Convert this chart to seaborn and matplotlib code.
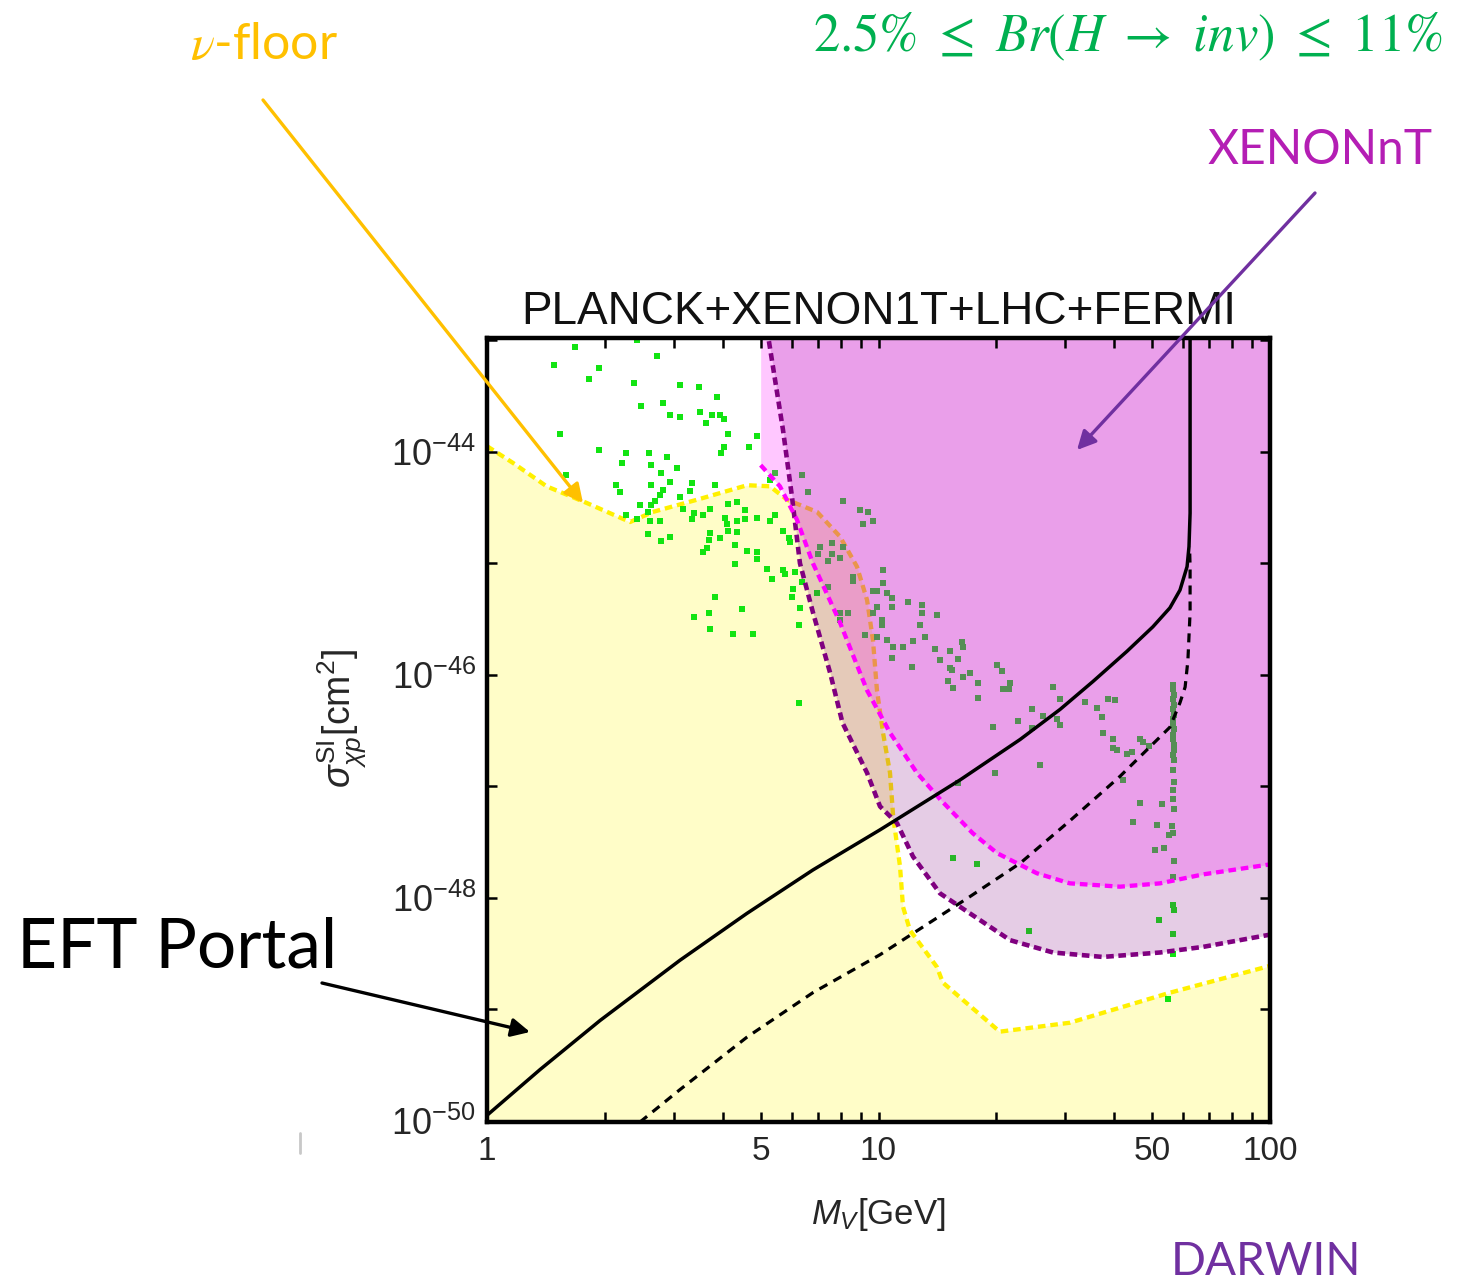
import numpy as np
import pandas as pd
import matplotlib
matplotlib.use("Agg")
import matplotlib.pyplot as plt
import seaborn as sns
from matplotlib.ticker import FixedLocator, NullLocator, FuncFormatter
from matplotlib.lines import Line2D

# ---------------- data (M in GeV, sigma as log10 of cm^2) ----------------
nu_floor_m = [1.0, 1.165, 1.42, 1.80, 2.32, 2.65, 3.44, 4.62, 5.28, 5.84, 6.97, 7.97, 8.81, 9.35,
              9.68, 9.91, 10.27, 10.7, 10.9, 11.35, 11.55, 12.03, 14.1, 14.6, 20.4, 30.8, 55.6, 100.0]
nu_floor_log = [-43.95, -44.10, -44.31, -44.46, -44.63, -44.54, -44.43, -44.30, -44.31, -44.43, -44.54,
                -44.76, -45.03, -45.33, -45.69, -46.14, -46.52, -46.88, -47.27, -47.72, -48.08, -48.29,
                -48.62, -48.76, -49.20, -49.12, -48.85, -48.61]

xenonnt_m = [5.0, 5.0, 5.60, 6.19, 6.80, 7.97, 9.35, 10.7, 12.54, 14.4, 17.4, 20.1, 25.4, 30.8,
             41.4, 52.4, 67.4, 100.0]
xenonnt_log = [-42.9, -44.12, -44.31, -44.61, -45.00, -45.53, -46.14, -46.52, -46.88, -47.12, -47.42,
               -47.60, -47.78, -47.87, -47.90, -47.87, -47.79, -47.70]

darwin_m = [5.19, 5.70, 6.01, 6.30, 6.80, 7.52, 8.09, 9.35, 10.09, 11.15, 12.25, 14.36, 17.13, 21.7,
            27.9, 37.4, 52.4, 67.4, 100.0]
darwin_log = [-42.9, -43.80, -44.40, -45.00, -45.44, -45.98, -46.43, -46.88, -47.18, -47.33, -47.63,
              -47.96, -48.14, -48.38, -48.49, -48.53, -48.49, -48.44, -48.33]

eft_m = [1.0, 1.366, 1.944, 3.11, 4.61, 6.80, 10.09, 16.2, 23.0, 29.1, 35.3, 43.1, 50.2, 55.5,
         58.9, 61.4, 62.1, 62.5, 62.5]
eft_log = [-49.95, -49.54, -49.10, -48.56, -48.14, -47.75, -47.39, -46.94, -46.58, -46.31, -46.06,
           -45.79, -45.57, -45.40, -45.24, -45.03, -44.85, -44.55, -42.9]

eft_dash_m = [2.46, 3.11, 4.61, 6.80, 10.09, 17.1, 23.0, 30.8, 41.4, 55.5, 58.9, 60.7, 61.7, 62.5,
              62.5, 62.3]
eft_dash_log = [-50.01, -49.72, -49.25, -48.85, -48.51, -47.99, -47.69, -47.31, -46.91, -46.47, -46.25,
                -46.11, -45.87, -45.44, -45.03, -44.85]

pts_m = [1.68, 2.41, 2.71, 1.48, 1.93, 1.82, 2.37, 3.11, 3.47, 3.86, 2.82, 2.48, 3.49, 2.94, 3.11,
         3.75, 3.94, 4.02, 3.63, 1.54, 4.13, 4.89, 4.02, 3.95, 4.68, 1.93, 2.27, 2.60, 2.21, 2.89,
         2.63, 3.05, 2.79, 1.59, 2.93, 2.14, 2.19, 2.63, 3.33, 3.82, 2.82, 3.30, 2.76, 3.11, 2.69,
         2.63, 2.46, 5.28, 5.44, 4.13, 4.34, 4.56, 3.71, 3.17, 3.37, 2.58, 2.27, 2.41, 2.61, 2.77,
         3.33, 3.57, 4.06, 4.34, 4.56, 4.89, 5.44, 5.28, 5.71, 5.89, 5.94, 3.71, 4.34, 4.13, 4.10,
         3.94, 2.58, 2.93, 2.79, 3.68, 3.64, 3.57, 4.30, 4.61, 4.89, 4.90, 4.30, 5.18, 5.71, 5.77,
         6.12, 5.34, 6.06, 6.37, 6.00, 3.82, 3.37, 3.68, 4.47, 3.71, 4.26, 4.79, 6.30, 6.28, 6.28,
         6.37, 6.62, 8.13, 8.97, 9.42, 9.15, 9.70,
         7.09, 7.59, 8.13, 7.59, 7.02, 7.97, 7.44, 10.29, 8.62, 8.62, 10.29, 9.70, 9.89, 10.49, 10.80,
         11.92, 12.89, 7.44, 6.95, 9.89, 10.80, 12.89, 14.08, 9.70, 7.97, 7.97, 8.37, 10.19, 10.19,
         12.76, 9.24, 9.89, 10.49, 12.27, 13.15, 10.91, 11.57, 13.94, 14.36, 15.23, 16.31, 16.47,
         15.99, 10.80, 12.15, 15.23, 15.38, 17.13, 16.47, 15.08, 15.53, 17.99, 17.99, 15.99, 15.53,
         17.81,
         20.04, 20.64, 21.67, 20.84, 21.59, 27.97, 29.08, 24.62, 22.76, 19.65, 24.62, 26.37, 28.52,
         29.08, 25.86, 19.85, 33.69, 36.08, 37.15, 37.52, 38.64, 40.19, 39.80, 39.80, 40.58, 43.04,
         44.33, 46.56, 47.29, 49.18, 42.21, 46.56, 52.88, 44.77, 51.34, 50.85, 53.60, 55.32,
         24.24, 52.06, 54.9]
pts_log = [-43.06, -43.00, -43.14, -43.22, -43.25, -43.35, -43.38, -43.40, -43.42, -43.51, -43.56,
           -43.59, -43.64, -43.67, -43.69, -43.67, -43.67, -43.71, -43.74, -43.84, -43.84, -43.86,
           -43.96, -44.01, -43.96, -43.98, -44.01, -44.01, -44.10, -44.05, -44.12, -44.15, -44.19,
           -44.21, -44.27, -44.30, -44.36, -44.30, -44.28, -44.30, -44.34, -44.35, -44.39, -44.41,
           -44.44, -44.48, -44.48, -44.25, -44.19, -44.47, -44.45, -44.52, -44.51, -44.51, -44.55,
           -44.54, -44.57, -44.60, -44.62, -44.62, -44.60, -44.57, -44.59, -44.62, -44.60, -44.59,
           -44.57, -44.62, -44.71, -44.77, -44.81, -44.73, -44.72, -44.71, -44.65, -44.77, -44.74,
           -44.76, -44.80, -44.79, -44.86, -44.90, -44.84, -44.89, -44.90, -44.96, -45.01, -45.05,
           -45.06, -45.10, -45.08, -45.14, -45.23, -45.17, -45.30, -45.30, -45.48, -45.45, -45.41,
           -45.59, -45.63, -45.63, -45.40, -45.55, -46.25,
           -44.21, -44.36, -44.44, -44.52, -44.54, -44.65, -44.62,
           -44.85, -44.82, -44.85, -44.92, -44.92, -44.95, -44.98, -45.06, -45.12, -45.16, -45.18,
           -45.25, -45.25, -45.27, -45.31, -45.35, -45.37, -45.21, -45.27, -45.39, -45.39, -45.45,
           -45.46, -45.45, -45.45, -45.51, -45.45, -45.51, -45.55, -45.55, -45.64, -45.66, -45.69,
           -45.70, -45.66, -45.75, -45.75, -45.77, -45.87, -45.79, -45.71, -45.75, -45.86, -45.85,
           -45.93, -45.94, -45.96, -45.98, -46.02, -46.06, -46.12, -46.07, -46.21, -46.97, -47.64,
           -47.70,
           -45.91, -45.97, -46.07, -46.13, -46.13, -46.11, -46.22, -46.31, -46.41, -46.47, -46.48,
           -46.37, -46.40, -46.45, -46.81, -46.88, -46.24, -46.30, -46.38, -46.52, -46.22, -46.23,
           -46.58, -46.66, -46.67, -46.71, -46.69, -46.58, -46.60, -46.64, -46.94, -47.15, -47.16,
           -47.32, -47.35, -47.57, -47.55, -47.44,
           -48.30, -48.20, -48.91]

column_m = [56.6, 56.4, 56.8, 56.5, 56.7, 56.4, 56.9, 56.6, 56.5, 56.8, 56.6, 56.4, 56.7, 56.9,
            56.5, 56.7, 56.6, 56.8, 56.5, 56.6, 56.9, 56.3, 56.6, 56.7, 56.5, 56.6, 56.8, 56.4, 56.6]
column_log = [-46.09, -46.13, -46.18, -46.22, -46.27, -46.31, -46.36, -46.40, -46.45, -46.49, -46.54,
              -46.58, -46.63, -46.67, -46.72, -46.76, -46.85, -46.96, -47.03, -47.11, -47.20, -47.36,
              -47.42, -47.67, -47.81, -48.06, -48.11, -48.32, -48.50]

x_ticks = [1, 2, 3, 4, 5, 6, 7, 8, 9, 10, 20, 30, 40, 50, 60, 70, 80, 90, 100]
x_labeled = [1, 5, 10, 50, 100]
y_exponents = [-50, -49, -48, -47, -46, -45, -44, -43]
y_labeled = [-50, -48, -46, -44]

# ---------------- style ----------------
sns.set_theme(style="ticks")
plt.rcParams['font.family'] = ['Liberation Sans', 'DejaVu Sans']
plt.rcParams['mathtext.fontset'] = 'custom'
plt.rcParams['mathtext.rm'] = 'Liberation Sans'
plt.rcParams['mathtext.it'] = 'Liberation Sans:italic'
plt.rcParams['mathtext.bf'] = 'Liberation Sans:bold'
plt.rcParams['lines.scale_dashes'] = False

YELLOW_FILL = '#FFFDC8'
YELLOW_LINE = '#FFF000'
PURPLE = '#800080'
MAGENTA = '#FF00FF'
DOT = '#12E412'

fig = plt.figure(figsize=(14.76, 12.84), dpi=100)
W, H = 1476, 1284
ax = fig.add_axes([487 / W, 1 - 1122 / H, (1270 - 487) / W, (1122 - 338) / H])
ax.set_xscale('log')
ax.set_yscale('log')
ax.set_facecolor('white')

def sig(lst):
    return [10.0 ** v for v in lst]

TOP = 1e-40
BOTTOM = 1e-52

# neutrino floor (yellow)
ax.fill_between(nu_floor_m, BOTTOM, sig(nu_floor_log), color=YELLOW_FILL, lw=0, zorder=1)
sns.lineplot(x=nu_floor_m, y=sig(nu_floor_log), ax=ax, estimator=None, sort=False,
             color=YELLOW_LINE, linewidth=3.1, zorder=2)
ax.get_lines()[-1].set_dashes((5.5, 3.5))

# scan points
pts = pd.DataFrame({'M': pts_m + column_m, 'sigma': sig(pts_log + column_log)})
sns.scatterplot(data=pts, x='M', y='sigma', ax=ax, marker='s', s=15, color=DOT,
                linewidth=0, zorder=2.5)

# DARWIN (lavender) and XENONnT (magenta) regions
ax.fill_between(darwin_m, sig(darwin_log), TOP, color=PURPLE, alpha=0.2, lw=0, zorder=3)
ax.fill_between(xenonnt_m, sig(xenonnt_log), TOP, color=MAGENTA, alpha=0.22, lw=0, zorder=3.5)

sns.lineplot(x=darwin_m, y=sig(darwin_log), ax=ax, estimator=None, sort=False,
             color=PURPLE, linewidth=3.3, zorder=4)
ax.get_lines()[-1].set_dashes((5.5, 3.3))
sns.lineplot(x=xenonnt_m[1:], y=sig(xenonnt_log[1:]), ax=ax, estimator=None, sort=False,
             color=MAGENTA, linewidth=3.1, zorder=4.5)
ax.get_lines()[-1].set_dashes((5.5, 3.5))

# EFT portal curves
sns.lineplot(x=eft_m, y=sig(eft_log), ax=ax, estimator=None, sort=False,
             color='black', linewidth=2.5, zorder=5)
sns.lineplot(x=eft_dash_m, y=sig(eft_dash_log), ax=ax, estimator=None, sort=False,
             color='black', linewidth=2.3, zorder=5)
ax.get_lines()[-1].set_dashes((6.5, 5.0))

ax.set_xlim(1, 100)
ax.set_ylim(10 ** -50.01, 10 ** -42.98)

# ticks
ax.xaxis.set_major_locator(FixedLocator(x_ticks))
ax.xaxis.set_minor_locator(NullLocator())
ax.xaxis.set_major_formatter(FuncFormatter(lambda v, p: f"{int(round(v))}" if int(round(v)) in x_labeled else ""))
ax.yaxis.set_major_locator(FixedLocator([10.0 ** e for e in y_exponents]))
ax.yaxis.set_minor_locator(NullLocator())
ax.yaxis.set_major_formatter(FuncFormatter(
    lambda v, p: (r"$10^{%d}$" % int(round(np.log10(v)))) if int(round(np.log10(v))) in y_labeled else ""))
ax.tick_params(axis='both', which='major', direction='in', length=7, width=1.8,
               top=True, right=True, color='black')
ax.tick_params(axis='x', labelsize=24, pad=10)
ax.tick_params(axis='y', labelsize=26, pad=8)
for sp in ax.spines.values():
    sp.set_linewidth(3.2)
    sp.set_color('black')
    sp.set_zorder(10)
ax.xaxis.set_zorder(10)
ax.yaxis.set_zorder(10)

ax.set_title("PLANCK+XENON1T+LHC+FERMI", fontsize=33, pad=10, color='#111111')
ax.set_xlabel(r"$M_V$[GeV]", fontsize=25)
ax.xaxis.set_label_coords(0.5, -0.095)
ax.set_ylabel(r"$\sigma^{\mathrm{SI}}_{\chi p}[\mathrm{cm}^2]$", fontsize=27)
ax.yaxis.set_label_coords(-0.152, 0.515)

# ---------------- annotations ----------------
def fx(px):
    return px / W

def fy(py):
    return 1 - py / H

fig.text(fx(264), fy(45), r"$\nu$-floor", color='#FFC000', fontsize=36,
         family=['Lato', 'DejaVu Sans'], math_fontfamily='stix', ha='center', va='center')
fig.text(fx(1128), fy(37), r"$2.5\%\ \leq\ Br(H\ \rightarrow\ inv)\ \leq\ 11\%$", color='#00B050',
         fontsize=38, math_fontfamily='stix', ha='center', va='center')
fig.text(fx(1320), fy(150), "XENONnT", color='#B41EB4', fontsize=34.5,
         family=['Lato', 'DejaVu Sans'], ha='center', va='center')
fig.text(fx(177), fy(948), "EFT Portal", color='black', fontsize=50,
         family=['Lato', 'DejaVu Sans'], ha='center', va='center')
fig.text(fx(1266), fy(1262), "DARWIN", color='#7030A0', fontsize=33,
         family=['Lato', 'DejaVu Sans'], ha='center', va='center')

def arrow(p0, p1, color):
    ax.annotate('', xy=(fx(p1[0]), fy(p1[1])), xytext=(fx(p0[0]), fy(p0[1])),
                xycoords='figure fraction', textcoords='figure fraction',
                annotation_clip=False,
                arrowprops=dict(arrowstyle='-|>', color=color, lw=2.4,
                                mutation_scale=28, shrinkA=0, shrinkB=0), zorder=20)

arrow((263, 100), (583, 503), '#FFC000')
arrow((1315, 193), (1077, 450), '#7030A0')
arrow((322, 983), (530, 1032), 'black')

fig.add_artist(Line2D([fx(300), fx(300)], [fy(1133), fy(1153)], color='#C8C8C8', lw=2))

fig.savefig("out.png", dpi=100, facecolor='white')
